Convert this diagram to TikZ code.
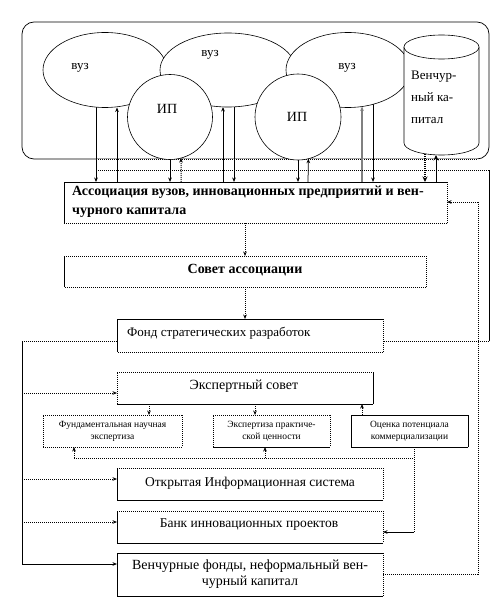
\documentclass[tikz,border=0pt]{standalone}
\usepackage{fontspec}
\setmainfont{Liberation Serif}
\usetikzlibrary{arrows.meta,shapes.geometric,calc}
\newcommand\bxe[5]{%
  \draw[#2] (#1.north west) -- (#1.north east);
  \draw[#3] (#1.north east) -- (#1.south east);
  \draw[#4] (#1.south east) -- (#1.south west);
  \draw[#5] (#1.south west) -- (#1.north west);}
\begin{document}
\begin{tikzpicture}[x=1pt,y=-1pt,
  sln/.style={line width=0.75pt},
  dtl/.style={line width=1pt, dash pattern=on 1pt off 1pt},
  arr/.style={-{Stealth[length=4.5pt,width=3.6pt]}},
  barr/.style={-{Stealth[length=5.5pt,width=5pt]}},
  frm/.style={draw=none, fill=white, inner sep=0pt, outer sep=0pt},
  shp/.style={draw, fill=white, line width=0.6pt, inner sep=0pt, outer sep=0pt},
  txt/.style={inner sep=0pt, font=\fontsize{13}{15}\selectfont},
  smt/.style={inner sep=0pt, align=center, font=\fontsize{9.5}{12}\selectfont}]
\useasboundingbox (0,0) rectangle (500,607);
\fill[white] (0,0) rectangle (500,607);

% helper x-levels
\foreach \xx in {96,117,170,181,223,234,245,298,308,362,373,425,436,149,255,265,478}
  {\coordinate (X\xx) at (\xx,0);}

% group frame
\node[draw, line width=0.7pt, rounded corners=12pt, minimum width=467pt, minimum height=137pt, inner sep=0pt] (grp) at (255.5,90.5) {};
\draw[white, line width=1.6pt] (grp.south -| X96) -- (grp.south -| X478);
\draw[dtl] (grp.south -| X96) -- (grp.south -| X478);

% boxes
\node[frm, minimum width=383pt, minimum height=41pt] (assoc) at (255.5,202.5) {};
\node[frm, minimum width=362pt, minimum height=31pt] (sovet) at (245,271.5) {};
\node[frm, minimum width=266pt, minimum height=33pt] (fond) at (250,335.5) {};
\node[frm, minimum width=256pt, minimum height=32pt] (ekspert) at (245,388) {};
\node[frm, minimum width=139pt, minimum height=32pt] (b1) at (112.5,431) {};
\node[frm, minimum width=117pt, minimum height=32pt] (b2) at (271.5,431) {};
\node[frm, minimum width=117pt, minimum height=32pt] (b3) at (409.5,431) {};
\node[frm, minimum width=266pt, minimum height=32pt] (otkr) at (250,484) {};
\node[frm, minimum width=266pt, minimum height=32pt] (bank) at (250,527) {};
\node[frm, minimum width=266pt, minimum height=43pt] (vench) at (250,574.5) {};

% down connectors from the upper shapes (drawn before the shapes)
\coordinate (cylc) at (441.5,100);
\draw[sln,arr] (96,70) -- (assoc.north -| X96);
\draw[sln,arr] (170,117) -- (assoc.north -| X170);
\draw[sln,arr] (234,70) -- (assoc.north -| X234);
\draw[sln,arr] (298,117) -- (assoc.north -| X298);
\draw[sln,arr] (373,70) -- (assoc.north -| X373);
\draw[dtl,line width=1.2pt,barr] (cylc -| X425) -- (assoc.north -| X425);

% upper shapes
\node[shp, ellipse, minimum width=124pt, minimum height=75pt] (e1) at (105,70) {};
\node[shp, ellipse, minimum width=136pt, minimum height=74pt] (e2) at (228,70) {};
\node[shp, ellipse, minimum width=124pt, minimum height=75pt] (e3) at (348,70) {};
\node[shp, circle, minimum size=85pt] (c1) at (170,117) {};
\node[shp, circle, minimum size=86pt] (c2) at (298,117) {};
\filldraw[fill=white, line width=0.6pt] (404,47) -- (404,143)
  arc[start angle=180, end angle=360, x radius=37.5pt, y radius=12pt] -- (479,47);
\draw[fill=white, line width=0.6pt] (441.5,47) ellipse [x radius=37.5pt, y radius=12pt];
\coordinate (cylb) at (441.5,155);

\node[txt] (t1) at (80,68) {вуз};
\node[txt] (t2) at (210,55) {вуз};
\node[txt] (t3) at (347,68) {вуз};
\node[txt, font=\fontsize{14}{16}\selectfont] (t4) at (167,109) {ИП};
\node[txt, font=\fontsize{14}{16}\selectfont] (t5) at (297,117) {ИП};
\node[inner sep=0pt, anchor=north west, align=left, font=\fontsize{13}{22}\selectfont] (cyltxt) at (411,71) {Венчур-\\ный ка-\\питал};

% up connectors into the upper shapes
\draw[sln,arr] (assoc.north -| X117) -- (e1.south -| X117);
\draw[dtl,arr] (assoc.north -| X181) -- (c1.-75);
\draw[sln,arr] (assoc.north -| X223) -- (e2.south -| X223);
\draw[sln,arr] (assoc.north -| X308) -- (c2.-76);
\draw[gray, line width=1.3pt, arr] (assoc.north -| X362) -- ($(e3.south -| X362)+(0,-1)$);
\draw[sln,barr] (assoc.north -| X436) -- (cylb -| X436);

% horizontal bus under the group
\coordinate (T1) at (96,170);
\coordinate (R1) at (489,170);
\coordinate (R2) at (489,341);
\draw[dtl] (T1) -- (R1);
\draw[sln] (R1) -- (R2);
\draw[dtl] (R2) -- (fond.east |- R2);

% vertical chain
\draw[dtl,arr] (assoc.south -| X245) -- (sovet.north -| X245);
\draw[dtl,arr] (sovet.south -| X245) -- (fond.north -| X245);

% left bus
\coordinate (L1) at (22,341);
\coordinate (L2) at (22,564);
\coordinate (L3) at (22,393);
\coordinate (L4) at (22,479);
\coordinate (L5) at (22,522);
\draw[dtl] (fond.west |- L1) -- (L1);
\draw[sln] (L1) -- (L2);
\draw[dtl,arr] (L3) -- (ekspert.west |- L3);
\draw[dtl,arr] (L4) -- (otkr.west |- L4);
\draw[dtl,arr] (L5) -- (bank.west |- L5);
\draw[sln,arr] (L2) -- (vench.west |- L2);

% right dotted loop
\coordinate (Q1) at (478,574);
\coordinate (Q2) at (478,202);
\draw[dtl] (vench.east |- Q1) -- (Q1) -- (Q2);
\draw[dtl,arr] (Q2) -- (assoc.east |- Q2);

% expert council links
\draw[dtl,arr] (ekspert.south -| X149) -- (b1.north -| X149);
\draw[dtl,arr] (ekspert.south -| X255) -- (b2.north -| X255);
\draw[dtl,arr] (b3.north -| X362) -- (ekspert.south -| X362);

\coordinate (P0) at (74,458);
\coordinate (P1) at (414,458);
\coordinate (P2) at (414,532);
\draw[dtl] (P0) -- (P1);
\draw[dtl] (b3.south -| P1) -- (P2);
\draw[sln,arr] (P2) -- (bank.east |- P2);
\draw[dtl,arr] (P0) -- (b1.south -| P0);
\draw[dtl,arr] (X265 |- P0) -- (b2.south -| X265);

% box borders
\bxe{assoc}{sln}{dtl}{dtl}{sln}
\bxe{sovet}{dtl}{dtl}{dtl}{sln}
\bxe{fond}{sln}{dtl}{dtl}{sln}
\bxe{ekspert}{dtl}{sln}{sln}{dtl}
\bxe{b1}{dtl}{dtl}{dtl}{dtl}
\bxe{b2}{dtl}{dtl}{sln}{dtl}
\bxe{b3}{sln}{sln}{sln}{sln}
\bxe{otkr}{dtl}{dtl}{sln}{sln}
\bxe{bank}{dtl}{dtl}{sln}{sln}
\bxe{vench}{sln}{dtl}{sln}{sln}

% box texts
\node[inner sep=0pt, anchor=west, align=left, font=\bfseries\fontsize{14}{19}\selectfont] (assoctxt) at (72,202) {Ассоциация вузов, инновационных предприятий и вен-\\чурного капитала};
\node[inner sep=0pt, font=\bfseries\fontsize{14}{16}\selectfont] (sovettxt) at (245,270) {Совет ассоциации};
\node[txt, anchor=west] (fondtxt) at (127,333) {Фонд стратегических разработок};
\node[txt, font=\fontsize{14}{16}\selectfont] (eksptxt) at (244,386) {Экспертный совет};
\node[smt] (b1txt) at (112.5,431) {Фундаментальная научная\\экспертиза};
\node[smt] (b2txt) at (271.5,431) {Экспертиза практиче-\\ской ценности};
\node[smt] (b3txt) at (409.5,431) {Оценка потенциала\\коммерциализации};
\node[txt, font=\fontsize{13.5}{16}\selectfont] (otkrtxt) at (250,483) {Открытая Информационная система};
\node[txt, font=\fontsize{13.5}{16}\selectfont] (banktxt) at (249,525) {Банк инновационных проектов};
\node[txt, align=center, font=\fontsize{14}{16}\selectfont] (venchtxt) at (250,574) {Венчурные фонды, неформальный вен-\\чурный капитал};
\end{tikzpicture}
\end{document}
